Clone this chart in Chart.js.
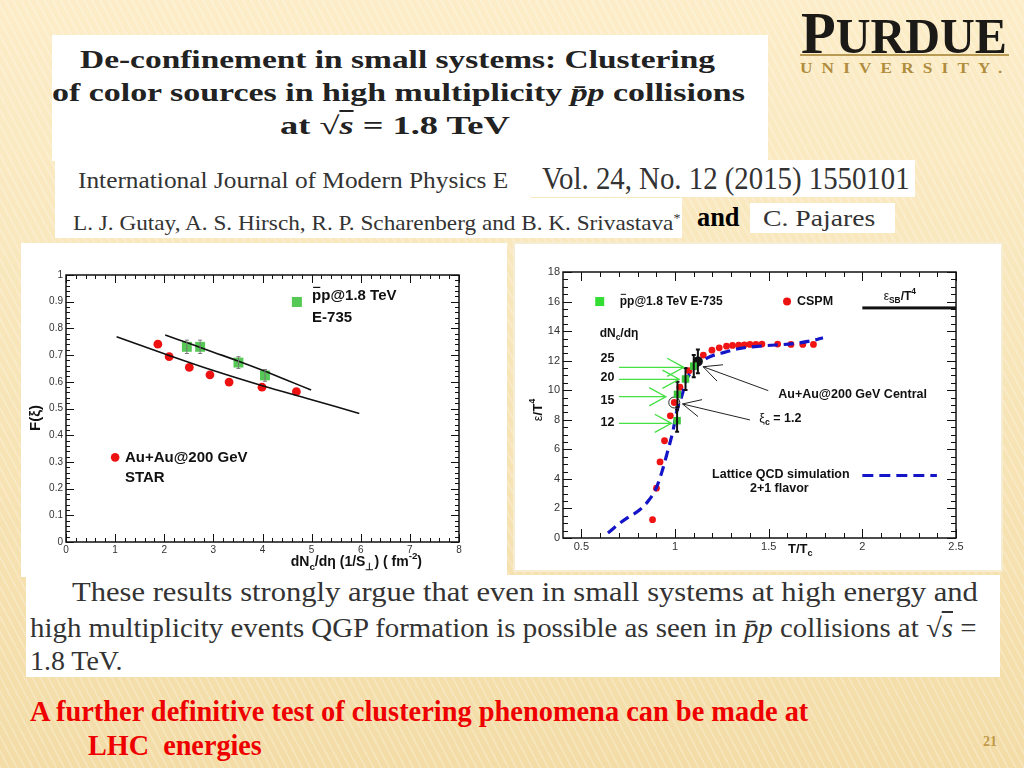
<!DOCTYPE html>
<html>
<head>
<meta charset="utf-8">
<script src="https://cdn.jsdelivr.net/npm/chart.js@4.4.0/dist/chart.umd.min.js"></script>
<style>
html, body { margin: 0; padding: 0; }
body {
  width: 1024px; height: 768px; position: relative; overflow: hidden;
  background:
    repeating-linear-gradient(62deg, rgba(255,255,255,0.22) 0 2px, rgba(255,255,255,0) 2px 7px),
    linear-gradient(#fcedc8, #f3dca6);
}
.box { position: absolute; background: #fff; }
.txt { position: absolute; white-space: nowrap; transform-origin: 0 0; }
canvas { position: absolute; }
</style>
</head>
<body>

<!-- paper excerpt boxes -->
<div class="box" style="left:52px;top:35px;width:716px;height:126px"></div>
<div class="box" style="left:55px;top:160px;width:476px;height:40px"></div>
<div class="box" style="left:530px;top:160px;width:385px;height:37px"></div>
<div class="box" style="left:55px;top:198px;width:627px;height:40px"></div>
<div class="box" style="left:750px;top:203px;width:145px;height:30px"></div>
<div class="box" style="left:21px;top:243px;width:486px;height:334px"></div>
<div class="box" style="left:513px;top:242px;width:490px;height:330px;box-shadow:inset 0 0 0 2px #f6ecd2"></div>
<div class="box" style="left:26px;top:575px;width:974px;height:102px"></div>
<div style="position:absolute;left:800px;top:54px;width:209px;height:2px;background:#b99a52"></div>

<canvas id="leftChart" width="486" height="334" style="left:21px;top:243px"></canvas>
<canvas id="rightChart" width="490" height="330" style="left:513px;top:242px"></canvas>

<script>
// ---------- left panel: F(xi) vs dNc/deta (1/S_perp) ----------
const starX = [1.87, 2.10, 2.51, 2.93, 3.32, 3.99, 4.69];
const starY = [0.741, 0.694, 0.654, 0.626, 0.599, 0.580, 0.563];
const ppX = [2.46, 2.73, 3.51, 4.05];
const ppY = [0.731, 0.731, 0.672, 0.624];
const ppErr = [0.025, 0.025, 0.022, 0.022];
const fitLowX = [1.03, 2.0, 3.0, 4.0, 5.0, 5.97];
const fitLowY = [0.769, 0.705, 0.642, 0.585, 0.533, 0.481];
const fitHighX = [2.02, 2.5, 3.0, 3.5, 4.0, 4.5, 4.99];
const fitHighY = [0.775, 0.744, 0.711, 0.678, 0.643, 0.606, 0.569];
const leftXTicks = [0, 1, 2, 3, 4, 5, 6, 7, 8];
const leftYTicks = [0, 0.1, 0.2, 0.3, 0.4, 0.5, 0.6, 0.7, 0.8, 0.9, 1];

// ---------- right panel: eps/T^4 vs T/Tc ----------
const latticeX = [0.642, 0.700, 0.749, 0.812, 0.860, 0.897, 0.928, 0.958, 0.990, 1.011, 1.035, 1.061, 1.097, 1.168, 1.275, 1.347, 1.47, 1.63, 1.73, 1.79];
const latticeY = [0.34, 0.95, 1.39, 1.91, 2.55, 3.31, 4.39, 5.74, 7.31, 8.66, 9.56, 10.69, 11.36, 12.15, 12.60, 12.83, 13.00, 13.15, 13.35, 13.55];
const cspmX = [0.880, 0.901, 0.920, 0.944, 0.975, 0.996, 1.026, 1.075, 1.151, 1.197, 1.236, 1.275, 1.307, 1.340, 1.370, 1.400, 1.432, 1.464, 1.548, 1.619, 1.682, 1.739];
const cspmY = [1.24, 3.37, 5.15, 6.58, 8.27, 9.17, 10.20, 11.32, 12.38, 12.71, 12.87, 12.98, 13.03, 13.05, 13.07, 13.10, 13.10, 13.12, 13.12, 13.10, 13.10, 13.10];
const e735X = [1.011, 1.013, 1.056, 1.100];
const e735Y = [7.94, 9.72, 10.76, 11.63];
const e735Err = [0.75, 0.85, 0.75, 0.75];
const auauX = [1.122];
const auauY = [11.95];
const auauErr = [0.8];
const ringX = [0.996];
const ringY = [9.17];
const rightXTicks = [0.5, 1, 1.5, 2, 2.5];
const rightYTicks = [0, 2, 4, 6, 8, 10, 12, 14, 16, 18];
const arrowLabels = ['25', '20', '15', '12'];
const arrowLabelY = [12.15, 10.85, 9.32, 7.83];
const arrowY = [11.55, 10.74, 9.56, 7.76];
const arrowTipX = [1.047, 1.022, 0.951, 0.981];
const arrowTailX = 0.701;

const SANS = '"Liberation Sans", Arial, sans-serif';
const SERIF = '"Liberation Serif", "Times New Roman", serif';

const pts = (xs, ys) => xs.map((x, i) => ({ x, y: ys[i] }));

// ---------- canvas helpers ----------
function rich(ctx, segs, x, y, size, weight, align) {
  const f = (s, w) => `${w} ${s}px ${SANS}`;
  let total = 0;
  segs.forEach(s => {
    const sz = s.sub || s.sup ? size * 0.7 : size;
    ctx.font = f(sz, s.w || weight);
    s._w = ctx.measureText(s.t).width;
    total += s._w;
  });
  let cx = align === 'center' ? x - total / 2 : align === 'right' ? x - total : x;
  ctx.textAlign = 'left';
  ctx.textBaseline = 'middle';
  segs.forEach(s => {
    const sz = s.sub || s.sup ? size * 0.7 : size;
    ctx.font = f(sz, s.w || weight);
    const dy = s.sub ? size * 0.35 : s.sup ? -size * 0.4 : 0;
    ctx.fillText(s.t, cx, y + dy);
    if (s.over) {
      ctx.fillRect(cx + 1, y - size * 0.62, s._w - 2, Math.max(1, size * 0.08));
    }
    cx += s._w;
  });
}

function arrow(ctx, x1, y1, x2, y2, len, ang) {
  ctx.beginPath();
  ctx.moveTo(x1, y1);
  ctx.lineTo(x2, y2);
  const a = Math.atan2(y1 - y2, x1 - x2);
  ctx.moveTo(x2 + len * Math.cos(a + ang), y2 + len * Math.sin(a + ang));
  ctx.lineTo(x2, y2);
  ctx.lineTo(x2 + len * Math.cos(a - ang), y2 + len * Math.sin(a - ang));
  ctx.stroke();
}

// ROOT style frame with inward major/minor ticks on all sides, error bars, annotations
function makeDeco(cfg) {
  return {
    id: 'deco',
    afterDatasetsDraw(chart) {
      const ctx = chart.ctx;
      const a = chart.chartArea;
      const xs = chart.scales.x, ys = chart.scales.y;
      ctx.save();
      // error bars
      chart.data.datasets.forEach(ds => {
        if (!ds.errY) return;
        ctx.strokeStyle = ds.errColor;
        ctx.lineWidth = ds.errWidth;
        ds.data.forEach((p, i) => {
          const px = xs.getPixelForValue(p.x);
          const y1 = ys.getPixelForValue(p.y - ds.errY[i]);
          const y2 = ys.getPixelForValue(p.y + ds.errY[i]);
          ctx.beginPath();
          ctx.moveTo(px, y1); ctx.lineTo(px, y2);
          ctx.moveTo(px - 2, y1); ctx.lineTo(px + 2, y1);
          ctx.moveTo(px - 2, y2); ctx.lineTo(px + 2, y2);
          ctx.stroke();
        });
      });
      // frame
      ctx.strokeStyle = '#111';
      ctx.lineWidth = 1.5;
      ctx.strokeRect(a.left, a.top, a.right - a.left, a.bottom - a.top);
      ctx.lineWidth = 1;
      const near = (v, list) => list.some(t => Math.abs(t - v) < 1e-6);
      const xMaj = xs.ticks.map(t => t.value), yMaj = ys.ticks.map(t => t.value);
      ctx.beginPath();
      for (let k = Math.ceil(xs.min / cfg.xMinor - 1e-6); k * cfg.xMinor <= xs.max + 1e-6; k++) {
        const v = k * cfg.xMinor;
        const L = near(v, xMaj) ? cfg.major : cfg.minor;
        const px = Math.round(xs.getPixelForValue(v)) + 0.5;
        ctx.moveTo(px, a.bottom); ctx.lineTo(px, a.bottom - L);
        ctx.moveTo(px, a.top); ctx.lineTo(px, a.top + L);
      }
      for (let k = Math.ceil(ys.min / cfg.yMinor - 1e-6); k * cfg.yMinor <= ys.max + 1e-6; k++) {
        const v = k * cfg.yMinor;
        const L = near(v, yMaj) ? cfg.major : cfg.minor;
        const py = Math.round(ys.getPixelForValue(v)) + 0.5;
        ctx.moveTo(a.left, py); ctx.lineTo(a.left + L, py);
        ctx.moveTo(a.right, py); ctx.lineTo(a.right - L, py);
      }
      ctx.stroke();
      ctx.fillStyle = '#111';
      cfg.draw(ctx, v => xs.getPixelForValue(v), v => ys.getPixelForValue(v), a);
      ctx.restore();
    }
  };
}

Chart.defaults.font.family = SANS;
Chart.defaults.color = '#333';

function axis(min, max, tickList, width, height, pad, size) {
  return {
    type: 'linear', min, max,
    grid: { display: false, drawTicks: false },
    border: { display: false },
    afterBuildTicks: s => { s.ticks = tickList.map(v => ({ value: v })); },
    afterFit: s => { if (width) s.width = width; if (height) s.height = height; },
    ticks: { padding: pad, font: { size }, color: '#333', autoSkip: false, maxRotation: 0,
             callback: v => String(v) }
  };
}

// ---------- left chart ----------
const leftDeco = makeDeco({
  xMinor: 0.2, yMinor: 0.02, major: 8, minor: 4,
  draw(ctx, X, Y) {
    ctx.fillStyle = '#55c855';
    ctx.fillRect(X(4.70) - 5, Y(0.899) - 5, 10, 10);
    ctx.fillStyle = '#111';
    rich(ctx, [{ t: 'p', over: true }, { t: 'p@1.8 TeV' }], X(5.01), Y(0.921), 15, 'bold', 'left');
    rich(ctx, [{ t: 'E-735' }], X(5.01), Y(0.839), 15, 'bold', 'left');
    ctx.fillStyle = '#ee1111';
    ctx.beginPath(); ctx.arc(X(1.0), Y(0.317), 4.3, 0, Math.PI * 2); ctx.fill();
    ctx.fillStyle = '#111';
    rich(ctx, [{ t: 'Au+Au@200 GeV' }], X(1.20), Y(0.317), 15, 'bold', 'left');
    rich(ctx, [{ t: 'STAR' }], X(1.20), Y(0.239), 15, 'bold', 'left');
    // axis titles
    rich(ctx, [{ t: 'dN' }, { t: 'c', sub: true }, { t: '/d\u03b7 (1/S' }, { t: '\u22a5', sub: true },
               { t: ') ( fm' }, { t: '-2', sup: true }, { t: ')' }], 401, 319, 14, 'bold', 'right');
    ctx.save();
    ctx.translate(15, 175);
    ctx.rotate(-Math.PI / 2);
    rich(ctx, [{ t: 'F(\u03be)' }], 0, 0, 15, 'bold', 'center');
    ctx.restore();
  }
});

new Chart(document.getElementById('leftChart'), {
  type: 'scatter',
  data: {
    datasets: [
      { data: pts(fitHighX, fitHighY), showLine: true, borderColor: '#111', borderWidth: 1.6,
        pointRadius: 0, tension: 0.4 },
      { data: pts(fitLowX, fitLowY), showLine: true, borderColor: '#111', borderWidth: 1.6,
        pointRadius: 0, tension: 0.4 },
      { data: pts(ppX, ppY), pointStyle: 'rect', pointRadius: 7, backgroundColor: '#55c855',
        borderWidth: 0, errY: ppErr, errColor: '#777', errWidth: 1 },
      { data: pts(starX, starY), pointRadius: 4.4, backgroundColor: '#ee1111', borderWidth: 0 }
    ]
  },
  options: {
    responsive: false, animation: false, events: [],
    layout: { padding: { left: 0, right: 48, top: 32, bottom: 0 } },
    plugins: { legend: { display: false }, tooltip: { enabled: false } },
    scales: {
      x: axis(0, 8, leftXTicks, 0, 35, 2, 10),
      y: axis(0, 1, leftYTicks, 45, 0, 3, 10)
    }
  },
  plugins: [leftDeco]
});

// ---------- right chart ----------
const rightDeco = makeDeco({
  xMinor: 0.1, yMinor: 0.5, major: 9, minor: 5,
  draw(ctx, X, Y) {
    // legend row
    ctx.fillStyle = '#33dd33';
    ctx.fillRect(X(0.598) - 4.5, Y(16.0) - 4.5, 9, 9);
    ctx.fillStyle = '#111';
    rich(ctx, [{ t: 'p', over: true }, { t: 'p@1.8 TeV E-735' }], X(0.705), Y(16.02), 12, 'bold', 'left');
    ctx.fillStyle = '#ee1111';
    ctx.beginPath(); ctx.arc(X(1.598), Y(16.0), 4, 0, Math.PI * 2); ctx.fill();
    ctx.fillStyle = '#111';
    rich(ctx, [{ t: 'CSPM' }], X(1.651), Y(16.0), 12.5, 'bold', 'left');
    rich(ctx, [{ t: '\u03b5', w: 'normal' }, { t: 'SB', sub: true }, { t: '/T' }, { t: '4', sup: true }],
         X(2.20), Y(16.31), 12, 'bold', 'center');
    ctx.fillRect(X(2.0), Y(15.57) - 1.5, X(2.5) - X(2.0), 3);
    // dNc/deta levels with green arrows
    rich(ctx, [{ t: 'dN' }, { t: 'c', sub: true }, { t: '/d\u03b7' }], X(0.598), Y(13.84), 12, 'bold', 'left');
    arrowLabels.forEach((s, i) => rich(ctx, [{ t: s }], X(0.602), Y(arrowLabelY[i]), 12.5, 'bold', 'left'));
    ctx.strokeStyle = '#44e044';
    ctx.lineWidth = 1.3;
    arrowY.forEach((y, i) => arrow(ctx, X(arrowTailX), Y(y), X(arrowTipX[i]), Y(y), 19, 0.5));
    // black pointers
    ctx.strokeStyle = '#222';
    ctx.lineWidth = 1;
    arrow(ctx, X(1.498), Y(9.97), X(1.150), Y(11.59), 20, 0.45);
    arrow(ctx, X(1.400), Y(7.99), X(1.040), Y(9.07), 20, 0.45);
    rich(ctx, [{ t: 'Au+Au@200 GeV Central' }], X(1.551), Y(9.74), 12.5, 'bold', 'left');
    rich(ctx, [{ t: '\u03be', w: 'normal' }, { t: 'c', sub: true }, { t: ' = 1.2' }], X(1.45), Y(8.1), 12.5, 'bold', 'left');
    rich(ctx, [{ t: 'Lattice QCD simulation' }], X(1.198), Y(4.32), 12.5, 'bold', 'left');
    rich(ctx, [{ t: '2+1 flavor' }], X(1.40), Y(3.37), 12.5, 'bold', 'left');
    ctx.strokeStyle = '#1515c8';
    ctx.lineWidth = 3;
    ctx.setLineDash([11, 6]);
    ctx.beginPath(); ctx.moveTo(X(2.0), Y(4.23)); ctx.lineTo(X(2.398), Y(4.23)); ctx.stroke();
    ctx.setLineDash([]);
    // axis titles
    ctx.fillStyle = '#111';
    rich(ctx, [{ t: 'T/T' }, { t: 'c', sub: true }], 275, 307, 13, 'bold', 'left');
    ctx.save();
    ctx.translate(25, 168);
    ctx.rotate(-Math.PI / 2);
    rich(ctx, [{ t: '\u03b5', w: 'normal' }, { t: '/T' }, { t: '4', sup: true }], 0, 0, 13, 'bold', 'center');
    ctx.restore();
  }
});

new Chart(document.getElementById('rightChart'), {
  type: 'scatter',
  data: {
    datasets: [
      { data: pts(e735X, e735Y), pointStyle: 'rect', pointRadius: 5.3, backgroundColor: '#3ec83e',
        borderWidth: 0, errY: e735Err, errColor: '#111', errWidth: 2 },
      { data: pts(auauX, auauY), pointRadius: 5, backgroundColor: '#111', borderWidth: 0,
        errY: auauErr, errColor: '#111', errWidth: 2 },
      { data: pts(latticeX, latticeY), showLine: true, borderColor: '#1515c8', borderWidth: 3.2,
        borderDash: [10, 6], pointRadius: 0, cubicInterpolationMode: 'monotone' },
      { data: pts(ringX, ringY), pointRadius: 5.5, backgroundColor: 'rgba(0,0,0,0)',
        borderColor: '#222', borderWidth: 1 },
      { data: pts(cspmX, cspmY), pointRadius: 3.4, backgroundColor: '#f01414', borderWidth: 0 }
    ]
  },
  options: {
    responsive: false, animation: false, events: [],
    layout: { padding: { left: 0, right: 47, top: 30, bottom: 0 } },
    plugins: { legend: { display: false }, tooltip: { enabled: false } },
    scales: {
      x: axis(0.402, 2.5, rightXTicks, 0, 34, 2, 11),
      y: axis(0, 18, rightYTicks, 50, 0, 3, 11)
    }
  },
  plugins: [rightDeco]
});

// ---------- slide text ----------
const probe = document.createElement('canvas').getContext('2d');
function put(html, x, base, w, font, color, extra) {
  const el = document.createElement('div');
  el.className = 'txt';
  el.innerHTML = html;
  el.style.font = font;
  el.style.color = color || '#222';
  if (extra) Object.assign(el.style, extra);
  probe.font = font;
  const m = probe.measureText('Hg');
  const A = m.fontBoundingBoxAscent, D = m.fontBoundingBoxDescent;
  el.style.lineHeight = (A + D) + 'px';
  el.style.left = x + 'px';
  el.style.top = (base - A) + 'px';
  document.body.appendChild(el);
  if (w) el.style.transform = `scaleX(${w / el.offsetWidth})`;
}
const pbar = '<i>p&#772;p</i>';
const sqrts = '&radic;<span style="text-decoration:overline"><i>s</i></span>';

put('De-confinement in small systems: Clustering', 80, 67.5, 635, `bold 25px ${SERIF}`, '#222');
put(`of color sources in high multiplicity ${pbar} collisions`, 52, 101, 693, `bold 25px ${SERIF}`, '#222');
put(`at ${sqrts} = 1.8 TeV`, 280, 134, 230, `bold 25px ${SERIF}`, '#222');
put('International Journal of Modern Physics E', 78, 188, 430, `23px ${SERIF}`, '#333');
put('Vol. 24, No. 12 (2015) 1550101', 542, 189, 368, `31px ${SERIF}`, '#333');
put('L. J. Gutay, A. S. Hirsch, R. P. Scharenberg and B. K. Srivastava<sup style="font-size:60%">*</sup>', 73, 225, 607, `21px ${SERIF}`, '#333');
put('and', 697, 226, 43, `bold 27px ${SERIF}`, '#000');
put('C. Pajares', 763, 226, 112, `23px ${SERIF}`, '#333');
put('These results strongly argue that even in small systems at high energy and', 72, 601, 906, `27px ${SERIF}`, '#333');
put(`high multiplicity events QGP formation is possible as seen in ${pbar} collisions at ${sqrts} =`, 30, 637, 947, `27px ${SERIF}`, '#333');
put('1.8 TeV.', 30, 670, 92, `27px ${SERIF}`, '#333');
put('A further definitive test of clustering phenomena can be made at', 30, 721, 778, `bold 29px ${SERIF}`, '#ee0000');
put('LHC&nbsp; energies', 88, 755, 174, `bold 29px ${SERIF}`, '#ee0000');
put('21', 983, 746, 14, `bold 14px ${SERIF}`, '#c09a48');
put('<span style="font-size:60px">P</span>URDUE', 801, 50, 206, `bold 51px ${SERIF}`, '#1c1a16');
put('UNIVERSITY.', 800, 73, 212, `bold 15px ${SERIF}`, '#b08d3e', { letterSpacing: '8px' });
</script>
</body>
</html>
